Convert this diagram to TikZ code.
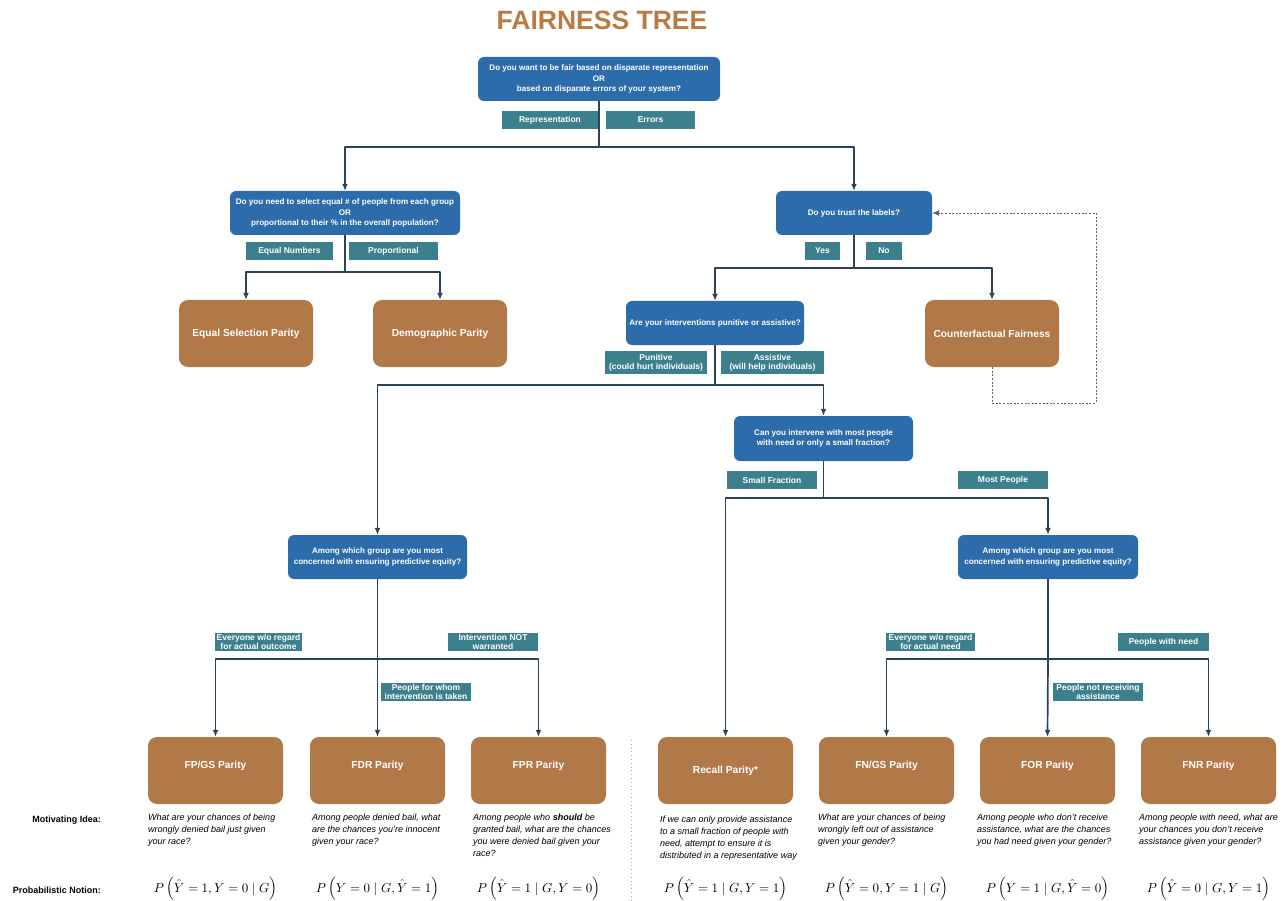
\documentclass[tikz,border=0pt]{standalone}
\usepackage{amsmath}
\usepackage{amssymb}
\usepackage{graphicx}
\usepackage[no-math]{fontspec}
\setmainfont{Liberation Sans}
\usetikzlibrary{arrows.meta}
\usetikzlibrary{positioning}

\definecolor{qblue}{RGB}{45,108,171}
\definecolor{ansteal}{RGB}{60,127,141}
\definecolor{outbrown}{RGB}{177,120,72}
\definecolor{titlebrown}{RGB}{186,122,66}
\definecolor{linkslate}{RGB}{44,66,86}

\newcommand{\pnot}[1]{\scalebox{1.3}{$#1$}}

\begin{document}
\begin{tikzpicture}[x=1pt,y=-1pt,>={Latex[length=7pt,width=6pt]},line join=bevel,
  question/.style={draw=none,fill=qblue,rounded corners=6pt,text=white,align=center,
    font=\fontsize{8.1}{10.3}\selectfont\bfseries,minimum height=44pt,inner sep=1pt},
  answer/.style={draw=none,fill=ansteal,text=white,align=center,
    font=\fontsize{8.5}{9}\selectfont\bfseries,minimum height=18pt,inner sep=0pt},
  outcome/.style={draw=none,fill=outbrown,rounded corners=9pt,text=white,
    font=\fontsize{10.2}{12}\selectfont\bfseries,minimum width=135pt,minimum height=67pt},
  lowtext/.style={outcome,text depth=12pt},
  idea/.style={anchor=north west,align=left,inner sep=0pt,
    font=\fontsize{9}{11.8}\selectfont\itshape},
  notion/.style={inner sep=0pt},
  rowhead/.style={anchor=east,inner sep=0pt,font=\fontsize{9}{10}\selectfont\bfseries},
  link/.style={draw=linkslate,line width=1.7pt},
  loopback/.style={draw=linkslate!80,line width=0.9pt,dash pattern=on 2pt off 1.6pt},
]
\useasboundingbox (0,0) rectangle (1282,901);
%%
\node (title) at (602,20) [text=titlebrown,font=\fontsize{26.5}{30}\selectfont\bfseries] {FAIRNESS TREE};
%
\node (q_repr) at (599,79) [question,minimum width=242pt] {Do you want to be fair based on disparate representation\\OR\\based on disparate errors of your system?};
  \node (a_repr) at (550,120) [answer,minimum width=96pt] {Representation};
  \node (a_err) at (650.5,120) [answer,minimum width=89pt] {Errors};
\node (q_select) at (345,213) [question,minimum width=230pt] {Do you need to select equal \# of people from each group\\OR\\proportional to their \% in the overall population?};
  \node (a_equal) at (289.5,251) [answer,minimum width=87pt] {Equal Numbers};
  \node (a_prop) at (393.5,251) [answer,minimum width=89pt] {Proportional};
\node (q_trust) at (854,213) [question,minimum width=156pt] {Do you trust the labels?};
  \node (a_yes) at (822.5,251) [answer,minimum width=35pt] {Yes};
  \node (a_no) at (884,251) [answer,minimum width=36pt] {No};
\node (out_esp) at (246,333.5) [outcome,minimum width=134pt] {Equal Selection Parity};
\node (out_dp) at (440,333.5) [outcome,minimum width=134pt] {Demographic Parity};
\node (out_cf) at (992,333.5) [outcome,minimum width=134pt] {Counterfactual Fairness};
\node (q_punit) at (715,323) [question,minimum width=178pt] {Are your interventions punitive or assistive?};
  \node (a_punit) at (656,362.5) [answer,minimum width=102pt,minimum height=23pt] {Punitive\\(could hurt individuals)};
  \node (a_assist) at (772.5,362.5) [answer,minimum width=103pt,minimum height=23pt] {Assistive\\(will help individuals)};
\node (q_reach) at (823.5,438.5) [question,minimum width=179pt,minimum height=45pt] {Can you intervene with most people\\with need or only a small fraction?};
  \node (a_small) at (772,480) [answer,minimum width=90pt] {Small Fraction};
  \node (a_most) at (1003,480) [answer,minimum width=90pt] {Most People};
\node (q_group_l) at (377.5,557) [question,minimum width=179pt] {Among which group are you most\\concerned with ensuring predictive equity?};
  \node (a_every_l) at (258.5,642) [answer,minimum width=87pt] {Everyone w/o regard\\for actual outcome};
  \node (a_notwarr) at (493,642) [answer,minimum width=90pt] {Intervention NOT\\warranted};
  \node (a_whom) at (426,692) [answer,minimum width=90pt] {People for whom\\intervention is taken};
\node (q_group_r) at (1048,557) [question,minimum width=180pt] {Among which group are you most\\concerned with ensuring predictive equity?};
  \node (a_every_r) at (930.5,642) [answer,minimum width=89pt] {Everyone w/o regard\\for actual need};
  \node (a_need) at (1163.5,642) [answer,minimum width=91pt] {People with need};
  \node (a_notrec) at (1098,692) [answer,minimum width=90pt] {People not receiving\\assistance};
%
\node (out_fpgs) at (215.5,770.5) [lowtext] {FP/GS Parity};
\node (out_fdr) at (377.5,770.5) [lowtext] {FDR Parity};
\node (out_fpr) at (538.5,770.5) [lowtext] {FPR Parity};
\node (out_recall) at (725.5,770.5) [outcome] {Recall Parity*};
\node (out_fngs) at (886.5,770.5) [lowtext] {FN/GS Parity};
\node (out_for) at (1047.5,770.5) [lowtext] {FOR Parity};
\node (out_fnr) at (1208.5,770.5) [lowtext] {FNR Parity};
%
\node (head_idea) at (101,820) [rowhead] {Motivating Idea:};
\node (head_notion) at (101,890) [rowhead] {Probabilistic Notion:};
\node (idea_fpgs) at (148,814) [idea] {What are your chances of being\\wrongly denied bail just given\\your race?};
\node (idea_fdr) at (312,814) [idea] {Among people denied bail, what\\are the chances you're innocent\\given your race?};
\node (idea_fpr) at (473,814) [idea] {Among people who \textbf{should} be\\granted bail, what are the chances\\you were denied bail given your\\race?};
\node (idea_recall) at (660,816) [idea] {If we can only provide assistance\\to a small fraction of people with\\need, attempt to ensure it is\\distributed in a representative way};
\node (idea_fngs) at (818,814) [idea] {What are your chances of being\\wrongly left out of assistance\\given your gender?};
\node (idea_for) at (977,814) [idea] {Among people who don't receive\\assistance, what are the chances\\you had need given your gender?};
\node (idea_fnr) at (1139,814) [idea] {Among people with need, what are\\your chances you don't receive\\assistance given your gender?};
%
\node (pn_fpgs) at (215.5,889) [notion] {\pnot{P\left(\hat{Y}=1, Y=0 \mid G\right)}};
\node (pn_fdr) at (377.5,889) [notion] {\pnot{P\left(Y=0 \mid G, \hat{Y}=1\right)}};
\node (pn_fpr) at (538.5,889) [notion] {\pnot{P\left(\hat{Y}=1 \mid G, Y=0\right)}};
\node (pn_recall) at (725.5,889) [notion] {\pnot{P\left(\hat{Y}=1 \mid G, Y=1\right)}};
\node (pn_fngs) at (886.5,889) [notion] {\pnot{P\left(\hat{Y}=0, Y=1 \mid G\right)}};
\node (pn_for) at (1047.5,889) [notion] {\pnot{P\left(Y=1 \mid G, \hat{Y}=0\right)}};
\node (pn_fnr) at (1208.5,889) [notion] {\pnot{P\left(\hat{Y}=0 \mid G, Y=1\right)}};
%%
\coordinate (j_repr) at (599,147);
\coordinate (j_select) at (345,272);
\coordinate (j_trust) at (854,268);
\coordinate (j_punit) at (715,385);
\coordinate (j_reach) at (823.5,498);
\coordinate (j_group_l) at (377.5,659);
\coordinate (j_group_r) at (1048,659);
\coordinate (back) at (1096,403);
\coordinate (sep_top) at (631,740);
\coordinate (sep_bot) at (631,901);
%
\draw [link] (q_repr.south) -- (j_repr);
\draw [link,->] (j_repr) -| (q_select.north);
\draw [link,->] (j_repr) -| (q_trust.north);
\draw [link] (q_select.south) -- (j_select);
\draw [link,->] (j_select) -| (out_esp.north);
\draw [link,->] (j_select) -| (out_dp.north);
\draw [link] (q_trust.south) -- (j_trust);
\draw [link,->] (j_trust) -| (q_punit.north);
\draw [link,->] (j_trust) -| (out_cf.north);
\draw [link] (q_punit.south) -- (j_punit);
\draw [link,->] (j_punit) -| (q_group_l.north);
\draw [link,->] (j_punit) -| (q_reach.north);
\draw [link] (q_reach.south) -- (j_reach);
\draw [link,->] (j_reach) -| (out_recall.north);
\draw [link,->] (j_reach) -| (q_group_r.north);
\draw [link] (q_group_l.south) -- (j_group_l);
\draw [link,->] (j_group_l) -| (out_fpgs.north);
\draw [link,->] (j_group_l) -- (out_fdr.north);
\draw [link,->] (j_group_l) -| (out_fpr.north);
\draw [link] (q_group_r.south) -- (j_group_r);
\draw [link,->] (j_group_r) -| (out_fngs.north);
\draw [link,->] (j_group_r) -- (out_for.north);
\draw [link,->] (j_group_r) -| (out_fnr.north);
\draw [loopback,->] (out_cf.south) |- (back) |- (q_trust.east);
\draw [draw=gray!70,line width=0.8pt,dash pattern=on 0.8pt off 3pt] (sep_top) -- (sep_bot);
%
\end{tikzpicture}
\end{document}
